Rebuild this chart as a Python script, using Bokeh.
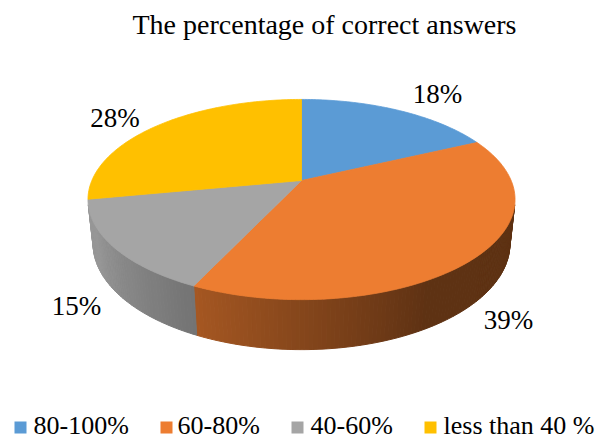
import math
import numpy as np
from bokeh.plotting import figure
from bokeh.models import Range1d
from bokeh.core.properties import value
from bokeh.embed import file_html
from bokeh.resources import INLINE

# ---- data ----
title_text = "The percentage of correct answers"
categories = ["80-100%", "60-80%", "40-60%", "less than 40 %"]
percent = [18, 39, 15, 28]
labels = ["18%", "39%", "15%", "28%"]
colors = ["#5B9BD5", "#ED7D31", "#A5A5A5", "#FFC000"]

# ---- projection (style/geometry) ----
CX, CY = 301.0, 180.0
F = 979.0
L = 4.67
TH = math.radians(27.4)
T = 0.239
ST, CT = math.sin(TH), math.cos(TH)
TXT_DY = -10  # baseline compensation for text


def proj(x, y, h):
    d = L + y * CT - h * ST
    return CX + F * x / d, CY - F * (y * ST + h * CT) / d


def circ(a_deg, h):
    a = math.radians(a_deg)
    return proj(math.sin(a), math.cos(a), h)


def shade(hexc, f):
    r, g, b = int(hexc[1:3], 16), int(hexc[3:5], 16), int(hexc[5:7], 16)
    return "#%02x%02x%02x" % (int(r * f), int(g * f), int(b * f))


def light(a):
    f = 0.4 + 0.3 * (a - 150.0) / 55.0
    return max(0.4, min(0.92, f))


total = float(sum(percent))
starts, ends = [], []
acc = 0.0
for v in percent:
    starts.append(acc / total * 360.0)
    acc += v
    ends.append(acc / total * 360.0)

# side walls
wx, wy, wc = [], [], []
VIS0, VIS1 = 103.9, 256.1
for i in range(len(percent)):
    a0, a1 = max(starts[i], VIS0), min(ends[i], VIS1)
    if a1 <= a0:
        continue
    n = max(1, int(math.ceil(a1 - a0)))
    edges = np.linspace(a0, a1, n + 1)
    for j in range(n):
        b0, b1 = edges[j], edges[j + 1]
        p1 = circ(b0, 0); p2 = circ(b1, 0)
        p3 = circ(b1, -T); p4 = circ(b0, -T)
        wx.append([p1[0], p2[0], p3[0], p4[0]])
        wy.append([p1[1], p2[1], p3[1], p4[1]])
        wc.append(shade(colors[i], light(0.5 * (b0 + b1))))

# top face
tx, ty = [], []
for i in range(len(percent)):
    n = max(2, int(math.ceil(ends[i] - starts[i])))
    pts = [proj(0, 0, 0)] + [circ(a, 0) for a in np.linspace(starts[i], ends[i], n + 1)]
    tx.append([p[0] for p in pts])
    ty.append([p[1] for p in pts])

p = figure(width=598, height=439, x_range=Range1d(0, 598), y_range=Range1d(439, 0),
           output_backend="svg", toolbar_location=None, min_border=0)
p.axis.visible = False
p.grid.visible = False
p.outline_line_color = None
p.background_fill_color = "white"

p.patches(wx, wy, fill_color=wc, line_color=wc, line_width=1)
p.patches(tx, ty, fill_color=colors, line_color=colors, line_width=0.8)

serif = value("Liberation Serif")
p.text(x=[324], y=[34 + TXT_DY], text=[title_text], text_font=serif, text_font_size="28px",
       text_align="center", text_baseline="alphabetic", text_color="#000000")

lab_x = [437, 508, 76, 114.5]
lab_y = [103, 329, 315, 127]
p.text(x=lab_x, y=[v + TXT_DY for v in lab_y], text=labels, text_font=serif,
       text_font_size="27px", text_align="center", text_baseline="alphabetic",
       text_color="#000000")

sq_x = [20, 166, 297, 430]
txt_x = [33, 177, 310, 443]
p.scatter(x=sq_x, y=[427] * 4, marker="square", size=12, fill_color=colors, line_color=None)
p.text(x=txt_x, y=[435 + TXT_DY] * 4, text=categories, text_font=serif, text_font_size="26px",
       text_align="left", text_baseline="alphabetic", text_color="#000000")

open("out.html", "w").write(file_html(p, INLINE))
